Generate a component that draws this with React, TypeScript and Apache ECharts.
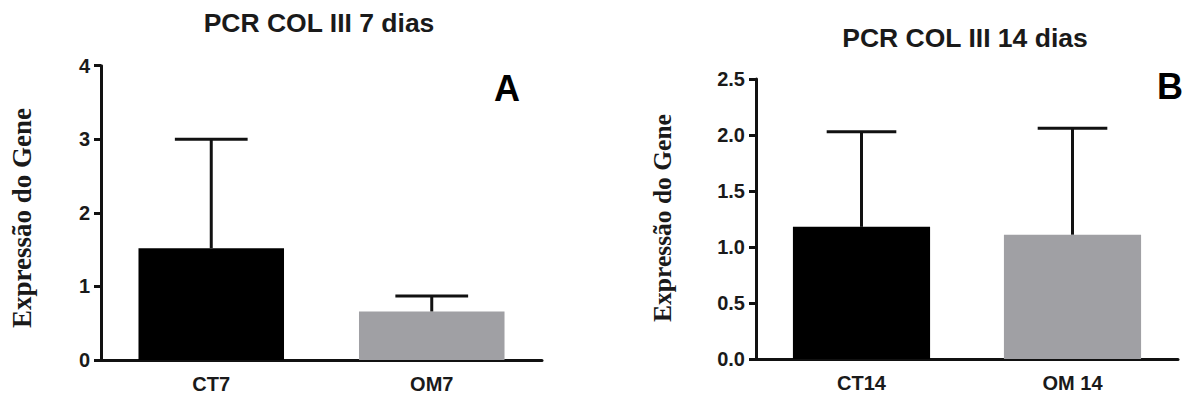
import React, { useEffect, useRef } from "react";
import * as echarts from "echarts";

const categoriesA = ["CT7", "OM7"];
const meansA = [1.52, 0.66];
const upperA = [3.0, 0.87];

const categoriesB = ["CT14", "OM 14"];
const meansB = [1.18, 1.11];
const upperB = [2.03, 2.06];

const barColors = ["#000000", "#a0a0a4"];

const titleA = "PCR COL III 7 dias";
const titleB = "PCR COL III 14 dias";
const yName = "Expressão do Gene";

const SANS = "'Liberation Sans', Arial, sans-serif";
const SERIF = "'Liberation Serif', 'Times New Roman', serif";
const AXIS_COLOR = "#111111";

function errorRender(params: any, api: any) {
  const idx = api.value(0);
  const top = api.coord([idx, api.value(2)]);
  const base = api.coord([idx, api.value(1)]);
  const band = api.size([1, 0])[0];
  const half = band * 0.165;
  const style = { stroke: AXIS_COLOR, lineWidth: 3 };
  return {
    type: "group",
    children: [
      { type: "line", shape: { x1: top[0], y1: base[1], x2: top[0], y2: top[1] }, style },
      { type: "line", shape: { x1: top[0] - half, y1: top[1], x2: top[0] + half, y2: top[1] }, style },
    ],
  };
}

function xAxisCfg(cats: string[], gridIndex: number) {
  return {
    type: "category",
    gridIndex,
    data: cats,
    boundaryGap: true,
    axisLine: { lineStyle: { color: AXIS_COLOR, width: 3 } },
    axisTick: { alignWithLabel: true, length: 8, lineStyle: { color: AXIS_COLOR, width: 3 } },
    axisLabel: { color: "#1a1a1a", fontFamily: SANS, fontWeight: "bold", fontSize: 20, margin: 14 },
    splitLine: { show: false },
  };
}

function yAxisCfg(gridIndex: number, max: number, interval: number, decimals: number) {
  return {
    type: "value",
    gridIndex,
    min: 0,
    max,
    interval,
    axisLine: { show: true, lineStyle: { color: AXIS_COLOR, width: 3 } },
    axisTick: { show: true, length: 7, lineStyle: { color: AXIS_COLOR, width: 3 } },
    axisLabel: {
      color: "#1a1a1a",
      fontFamily: SANS,
      fontWeight: "bold",
      fontSize: 20,
      margin: 11,
      formatter: (v: number) => v.toFixed(decimals),
    },
    splitLine: { show: false },
  };
}

export default function App() {
  const ref = useRef<HTMLDivElement>(null);
  useEffect(() => {
    if (!ref.current) return;
    const chart = echarts.init(ref.current, null, { renderer: "svg" });
    chart.setOption({
      animation: false,
      backgroundColor: "#ffffff",
      grid: [
        { left: 101, top: 65.7, width: 441, height: 294.3 },
        { left: 756, top: 79, width: 422, height: 280 },
      ],
      xAxis: [xAxisCfg(categoriesA, 0), xAxisCfg(categoriesB, 1)],
      yAxis: [yAxisCfg(0, 4, 1, 0), yAxisCfg(1, 2.5, 0.5, 1)],
      series: [
        {
          type: "bar",
          xAxisIndex: 0,
          yAxisIndex: 0,
          barWidth: "66%",
          data: meansA.map((v, i) => ({ value: v, itemStyle: { color: barColors[i] } })),
        },
        {
          type: "custom",
          xAxisIndex: 0,
          yAxisIndex: 0,
          z: 5,
          renderItem: errorRender,
          data: meansA.map((v, i) => [i, v, upperA[i]]),
        },
        {
          type: "bar",
          xAxisIndex: 1,
          yAxisIndex: 1,
          barWidth: "65%",
          data: meansB.map((v, i) => ({ value: v, itemStyle: { color: barColors[i] } })),
        },
        {
          type: "custom",
          xAxisIndex: 1,
          yAxisIndex: 1,
          z: 5,
          renderItem: errorRender,
          data: meansB.map((v, i) => [i, v, upperB[i]]),
        },
      ],
      graphic: [
        {
          type: "text",
          x: 319,
          y: 23,
          style: { text: titleA, font: `bold 26.5px ${SANS}`, fill: "#1a1a1a", textAlign: "center", textVerticalAlign: "middle" },
        },
        {
          type: "text",
          x: 965,
          y: 38,
          style: { text: titleB, font: `bold 26.5px ${SANS}`, fill: "#1a1a1a", textAlign: "center", textVerticalAlign: "middle" },
        },
        {
          type: "text",
          x: 507,
          y: 88,
          style: { text: "A", font: `bold 36px ${SANS}`, fill: "#000", textAlign: "center", textVerticalAlign: "middle" },
        },
        {
          type: "text",
          x: 1157,
          y: 86,
          style: { text: "B", font: `bold 36px ${SANS}`, fill: "#000", textAlign: "left", textVerticalAlign: "middle" },
        },
        {
          type: "text",
          x: 22,
          y: 218,
          rotation: Math.PI / 2,
          style: { text: yName, font: `bold 27px ${SERIF}`, fill: "#1a1a1a", textAlign: "center", textVerticalAlign: "middle" },
        },
        {
          type: "text",
          x: 662,
          y: 218,
          rotation: Math.PI / 2,
          style: { text: yName, font: `bold 25.5px ${SERIF}`, fill: "#1a1a1a", textAlign: "center", textVerticalAlign: "middle" },
        },
      ],
    });
    return () => chart.dispose();
  }, []);
  return (
    <div
      ref={ref}
      style={{ position: "fixed", left: 0, top: 0, width: 1184, height: 396, background: "#fff" }}
    />
  );
}
